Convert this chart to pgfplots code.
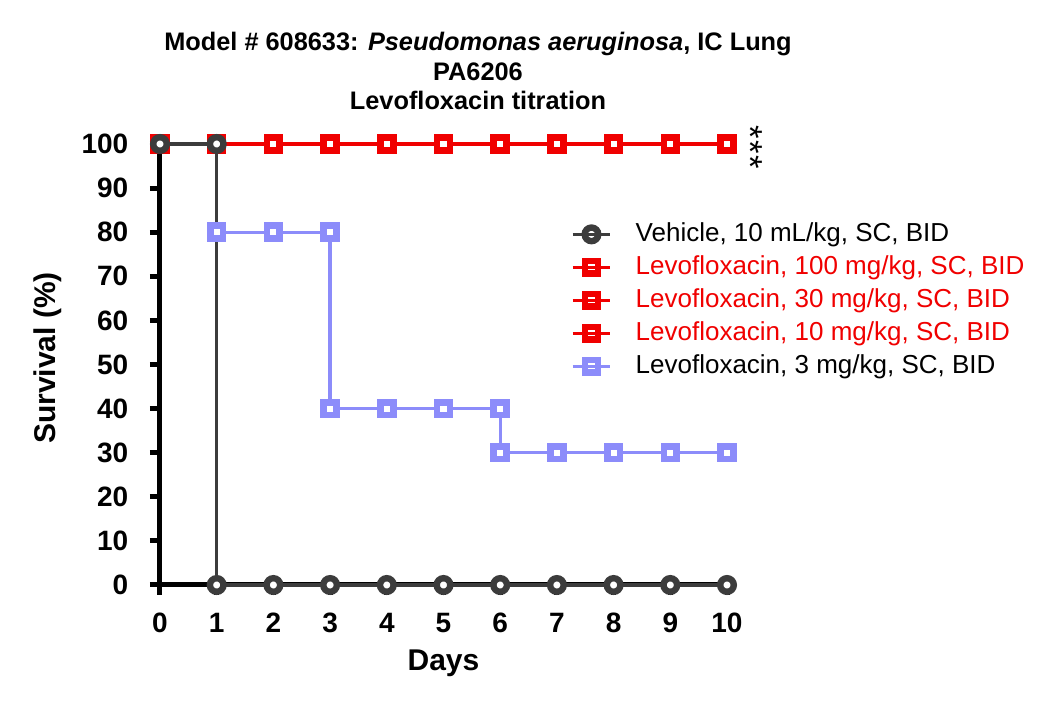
\documentclass[border=0pt]{standalone}
\usepackage{pgfplots}
\pgfplotsset{compat=1.18}
\usepackage{fontspec}
\setmainfont{Liberation Sans}
\definecolor{vehc}{RGB}{60,60,60}
\definecolor{redc}{RGB}{240,0,0}
\definecolor{bluec}{RGB}{140,140,250}
\begin{document}
\begin{tikzpicture}[x=1pt,y=1pt]
\useasboundingbox (-120,-93) rectangle (667.5,438.75);
\node[anchor=base,font=\fontsize{19}{22}\selectfont\bfseries] at (238.5,400.5) {Model \# 608633: \textit{Pseudomonas aeruginosa}, IC Lung};
\node[anchor=base,font=\fontsize{19}{22}\selectfont\bfseries] at (238.5,378) {PA6206};
\node[anchor=base,font=\fontsize{19}{22}\selectfont\bfseries] at (238.5,356.25) {Levofloxacin titration};
\begin{axis}[
  at={(0,0)}, anchor=origin,
  scale only axis, width=425.25pt, height=330.75pt,
  xmin=0, xmax=10, ymin=0, ymax=100,
  axis x line*=bottom, axis y line*=left,
  axis line style={line width=3.75pt, black},
  xtick={0,...,10}, ytick={0,10,...,100},
  tick align=outside,
  major tick length=7.5pt,
  major tick style={line width=3.75pt, black},
  /pgf/number format/assume math mode=true,
  tick label style={font=\fontsize{21}{21}\selectfont\bfseries},
  xticklabel style={yshift=-10pt},
  yticklabel style={xshift=-12.75pt},
  xlabel={Days}, ylabel={Survival (\%)},
  label style={font=\fontsize{22.5}{26}\selectfont\bfseries},
  xlabel style={at={(axis description cs:0.5,-0.1769)}, anchor=center},
  ylabel style={at={(axis description cs:-0.1985,0.515)}, anchor=center},
  clip=false,
  legend cell align=left,
  legend style={at={(axis description cs:0.7249,0.827)}, anchor=north west,
    draw=none, fill=none, inner xsep=0pt, inner ysep=0pt, row sep=4.05pt,
    font=\fontsize{19.5}{23}\selectfont,
    /tikz/every odd column/.append style={column sep=17pt},
    nodes={text height=14.5pt, text depth=4.2pt, inner sep=1pt}},
  legend image code/.code={%
    \draw[mark repeat=2,mark phase=2] plot coordinates {(0pt,0pt)(13.9pt,0pt)(27.8pt,0pt)};
    \draw[mark=none] (0pt,0pt)--(27.8pt,0pt);},
  sq/.style={mark=square*, mark size=4.8pt, mark options={solid, fill=white, line width=5pt}},
  ci/.style={mark=*, mark size=5.1pt, mark options={solid, fill=white, line width=4.8pt}},
]
% legend entries
\addlegendimage{vehc, line width=2.5pt, ci}
\addlegendentry{Vehicle, 10 mL/kg, SC, BID}
\addlegendimage{redc, line width=2.5pt, sq}
\addlegendentry{\textcolor{redc}{Levofloxacin, 100 mg/kg, SC, BID}}
\addlegendimage{redc, line width=2.5pt, sq}
\addlegendentry{\textcolor{redc}{Levofloxacin, 30 mg/kg, SC, BID}}
\addlegendimage{redc, line width=2.5pt, sq}
\addlegendentry{\textcolor{redc}{Levofloxacin, 10 mg/kg, SC, BID}}
\addlegendimage{bluec, line width=2.5pt, sq}
\addlegendentry{Levofloxacin, 3 mg/kg, SC, BID}
% 3 mg/kg
\addplot[bluec, only marks, sq, forget plot] coordinates {(0,100)(1,100)(1,80)(2,80)(3,80)(3,40)(4,40)(5,40)(6,40)(6,30)(7,30)(8,30)(9,30)(10,30)};
\addplot[bluec, line width=2.5pt, forget plot] coordinates {(0,100)(1,100)(1,80)(2,80)(3,80)(3,40)(4,40)(5,40)(6,40)(6,30)(7,30)(8,30)(9,30)(10,30)};
% 10 mg/kg
\addplot[redc, only marks, sq, forget plot] coordinates {(0,100)(1,100)(2,100)(3,100)(4,100)(5,100)(6,100)(7,100)(8,100)(9,100)(10,100)};
\addplot[redc, line width=2.5pt, forget plot] coordinates {(0,100)(1,100)(2,100)(3,100)(4,100)(5,100)(6,100)(7,100)(8,100)(9,100)(10,100)};
% 30 mg/kg
\addplot[redc, only marks, sq, forget plot] coordinates {(0,100)(1,100)(2,100)(3,100)(4,100)(5,100)(6,100)(7,100)(8,100)(9,100)(10,100)};
\addplot[redc, line width=2.5pt, forget plot] coordinates {(0,100)(1,100)(2,100)(3,100)(4,100)(5,100)(6,100)(7,100)(8,100)(9,100)(10,100)};
% 100 mg/kg
\addplot[redc, only marks, sq, forget plot] coordinates {(0,100)(1,100)(2,100)(3,100)(4,100)(5,100)(6,100)(7,100)(8,100)(9,100)(10,100)};
\addplot[redc, line width=2.5pt, forget plot] coordinates {(0,100)(1,100)(2,100)(3,100)(4,100)(5,100)(6,100)(7,100)(8,100)(9,100)(10,100)};
% vehicle
\addplot[vehc, only marks, ci, forget plot] coordinates {(0,100)(1,100)(1,0)(2,0)(3,0)(4,0)(5,0)(6,0)(7,0)(8,0)(9,0)(10,0)};
\addplot[vehc, line width=2.5pt, forget plot] coordinates {(0,100)(1,100)(1,0)(2,0)(3,0)(4,0)(5,0)(6,0)(7,0)(8,0)(9,0)(10,0)};
% significance
\node[font=\fontsize{26}{26}\selectfont, inner sep=0pt, anchor=center, rotate=-90] at ([xshift=17.5pt,yshift=-2.25pt]axis cs:10,100) {*\kern1.15pt*\kern1.15pt*};
\end{axis}
\end{tikzpicture}
\end{document}
